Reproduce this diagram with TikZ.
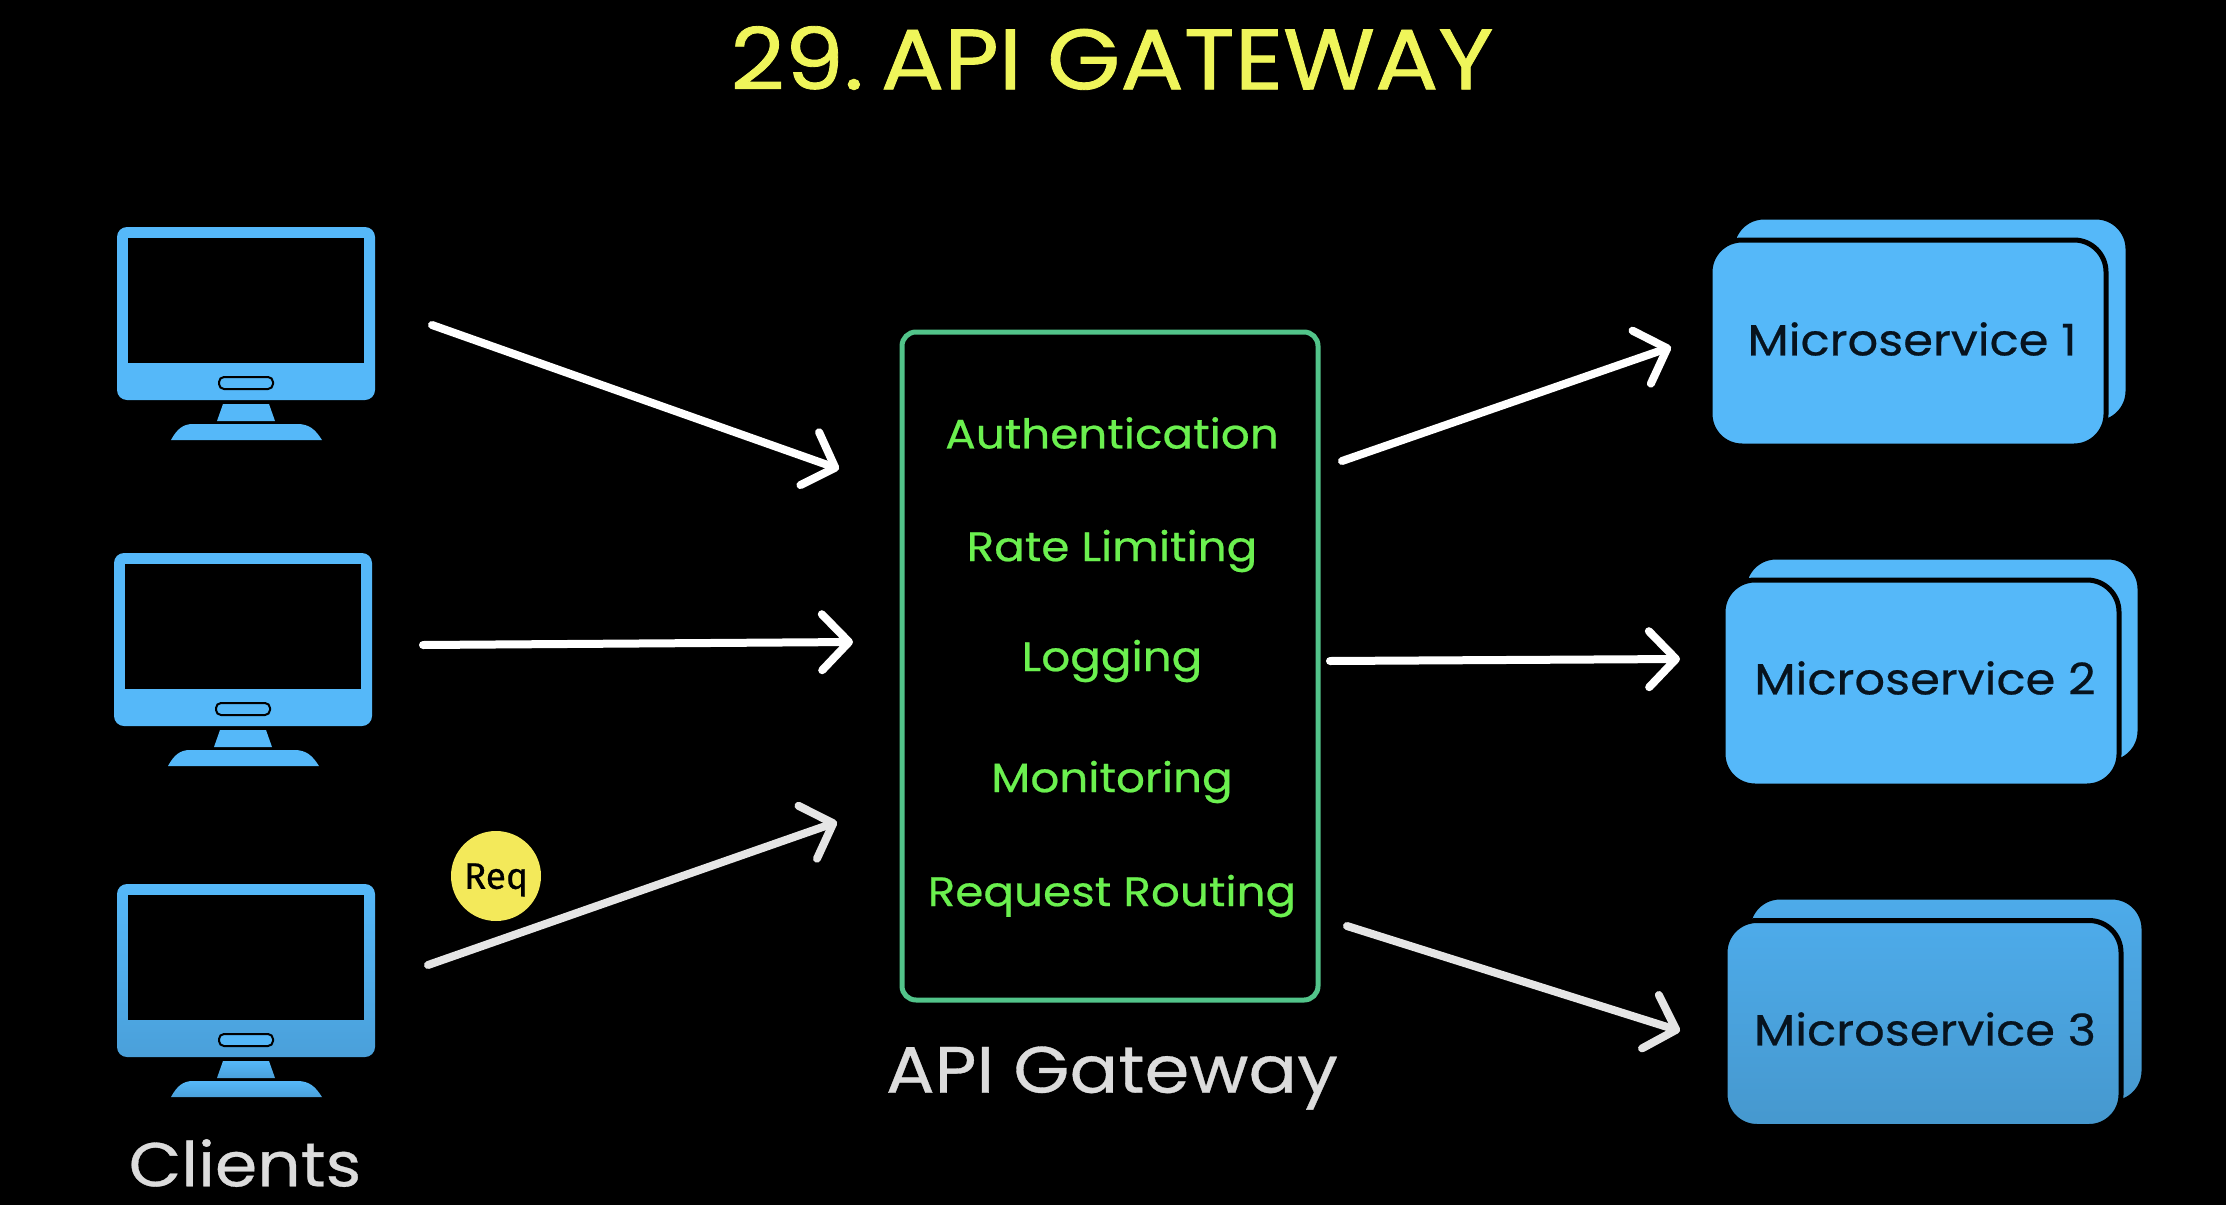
\documentclass[tikz,border=0pt]{standalone}
\usepackage{fontspec}
\setmainfont{Poppins}[FakeStretch=1.1,FakeBold=0.5]
\newfontfamily\titlefont{Poppins}[FakeStretch=1.1,FakeBold=1.0]
\newfontfamily\reqfont{Fira Sans}[FakeBold=0.5]
\usetikzlibrary{arrows.meta}
\definecolor{iconblue}{HTML}{55B8F9}
\definecolor{iconblueb}{HTML}{4AA0DA}
\definecolor{cardtop}{HTML}{4DABEA}
\definecolor{cardbottom}{HTML}{4698CE}
\definecolor{titleyellow}{HTML}{EFF55A}
\definecolor{boxgreen}{HTML}{52C48A}
\definecolor{itemgreen}{HTML}{6BF04F}
\definecolor{labelgrey}{HTML}{DCDCDC}
\definecolor{reqyellow}{HTML}{F3E95A}
\definecolor{inktext}{HTML}{07131E}
\tikzset{
  flow/.style={draw=white,line width=4pt,line cap=round,line join=round,
    -{Straight Barb[length=13.5pt,width=28pt,line width=4pt,round]}},
  flowdim/.style={flow,draw=white!90!black},
  item/.style={text=itemgreen,font=\fontsize{20.6}{24}\selectfont,inner sep=0pt},
  caption/.style={text=labelgrey,font=\fontsize{32.8}{36}\selectfont,inner sep=0pt},
  cardfront/.style={draw=black,line width=2.5pt,fill=iconblue,rounded corners=16pt,
    minimum width=198pt,minimum height=103pt,inner sep=0pt},
  cardtext/.style={inner sep=0pt,text=inktext,font=\fontsize{21.8}{25}\selectfont},
  cardback/.style={cardfront},
  cardfrontb/.style={cardfront,fill=none,top color=cardtop,bottom color=cardbottom},
  cardbackb/.style={cardfrontb},
  monitor/.pic={
    \path[pic actions,rounded corners=5pt] (0,0) rectangle (258,173);
    \fill[black] (11,11) rectangle (247,136);
    \draw[black,line width=1pt,fill=iconblue,rounded corners=2.5pt] (102,150) rectangle (156,162);
    \path[pic actions] (106,177) -- (152,177) -- (158,194) -- (100,194) -- cycle;
    \path[pic actions] (54,213) .. controls (60,202) and (66,197) .. (76,197)
      -- (180,197) .. controls (192,197) and (198,202) .. (205,213) -- cycle;
  }
}
\begin{document}
\begin{tikzpicture}[x=0.5pt,y=-0.5pt]
\useasboundingbox (0,0) rectangle (2226,1204);
\fill[black] (-6,-6) rectangle (2232,1210);

\node[inner sep=0pt,text=titleyellow,font=\titlefont\fontsize{42.8}{44}\selectfont] (title) at (1112,58) {29.\hspace{0.2em}API GATEWAY};

\pic[fill=iconblue] at (117,227) {monitor};
\pic[fill=iconblue] at (114,553) {monitor};
\pic[top color=iconblue,bottom color=iconblueb] at (117,884) {monitor};

\node[draw=boxgreen,line width=2.5pt,rounded corners=7pt,minimum width=208pt,minimum height=334pt,inner sep=0pt] (gateway) at (1110,666) {};
\node[item] (auth) at (1112,433) {Authentication};
\node[item] (rate) at (1112,551) {Rate Limiting};
\node[item] (logging) at (1112,661) {Logging};
\node[item] (monitoring) at (1112,782) {Monitoring};
\node[item] (routing) at (1112,896) {Request Routing};
\node[caption] (gwlabel) at (1112,1078) {API Gateway};
\node[caption,font=\fontsize{31}{34}\selectfont] (clients) at (245,1163) {Clients};

\node[cardback] (back1) at (1930,320) {};
\node[cardfront] (ms1) at (1908,343) {};
\node[cardtext] (ms1t) at (1912,339) {Microservice 1};
\node[cardback] (back2) at (1942,660) {};
\node[cardfront] (ms2) at (1921,683) {};
\node[cardtext] (ms2t) at (1925,678) {Microservice 2};
\node[cardbackb] (back3) at (1946,1000) {};
\node[cardfrontb] (ms3) at (1923,1023.5) {};
\node[cardtext] (ms3t) at (1925,1029) {Microservice 3};

\node[circle,fill=reqyellow,minimum size=45pt,inner sep=0pt] (req) at (496,876) {};
\node[inner sep=0pt,text=black,font=\reqfont\fontsize{18.5}{20}\selectfont] (reqt) at (496,880) {Req};

\coordinate (a1s) at (432,325); \coordinate (a1e) at (839,469);
\coordinate (a2s) at (423,645); \coordinate (a2e) at (853,642);
\coordinate (a3s) at (428,965); \coordinate (a3e) at (837,822);
\coordinate (b1s) at (1342,461); \coordinate (b1e) at (1671,347);
\coordinate (b2s) at (1330,661); \coordinate (b2e) at (1680,659);
\coordinate (b3s) at (1347,926); \coordinate (b3e) at (1680,1031);
\draw[flow] (a1s) -- (a1e);
\draw[flow] (a2s) -- (a2e);
\draw[flowdim] (a3s) -- (a3e);
\draw[flow] (b1s) -- (b1e);
\draw[flow] (b2s) -- (b2e);
\draw[flowdim] (b3s) -- (b3e);
\end{tikzpicture}
\end{document}
